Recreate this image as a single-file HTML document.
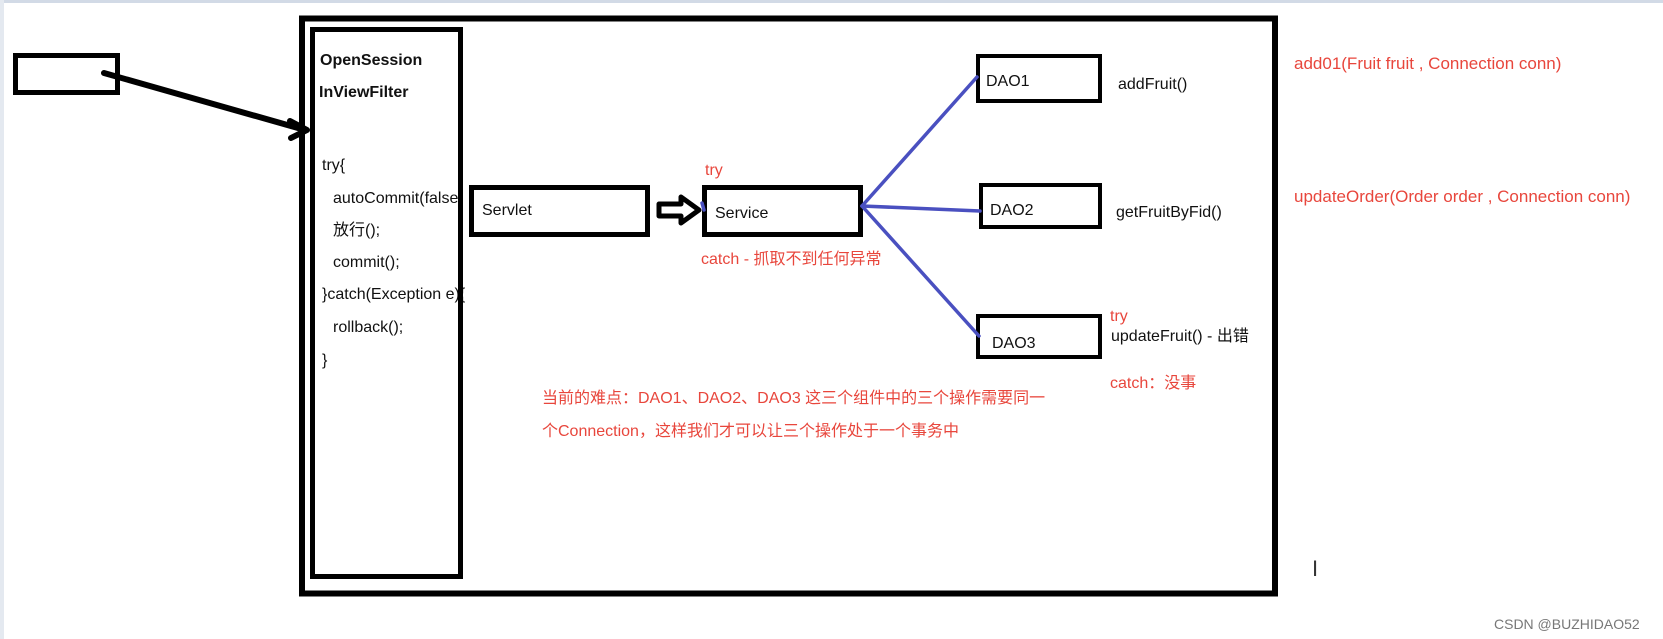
<!DOCTYPE html>
<html><head><meta charset="utf-8"><style>
html,body{margin:0;padding:0;background:#fff;}
svg{display:block}
text{font-family:"Liberation Sans","Noto Sans CJK SC",sans-serif;}
</style></head><body>
<svg width="1663" height="639" viewBox="0 0 1663 639" xmlns="http://www.w3.org/2000/svg">
<rect x="0" y="0" width="1663" height="639" fill="#fff"/>
<rect x="0" y="0" width="1663" height="3" fill="#d2dae6"/>
<rect x="0" y="0" width="4" height="639" fill="#e4e9f0"/>
<g font-size="16" fill="#111">
<text x="333" y="203">autoCommit(false)</text>
<text x="322" y="299">}catch(Exception e){</text>
</g>
<g fill="none" stroke="#000">
<rect x="15.5" y="55.5" width="102" height="37" stroke-width="5"/>
<rect x="302" y="18.5" width="973" height="575" stroke-width="6"/>
<rect x="312.5" y="29.5" width="148" height="547" stroke-width="5"/>
<rect x="471.5" y="187.5" width="176" height="47" stroke-width="5"/>
<rect x="704.5" y="187.5" width="156" height="47" stroke-width="5"/>
<rect x="978" y="56" width="122" height="45" stroke-width="4"/>
<rect x="981" y="185" width="119" height="42" stroke-width="4"/>
<rect x="978" y="316" width="122" height="41" stroke-width="4"/>
<line x1="104" y1="73" x2="305" y2="130" stroke-width="6" stroke-linecap="round"/>
<polyline points="290,121 307,130 291,138" stroke-width="6" stroke-linecap="round" stroke-linejoin="round"/>
</g>
<path d="M659,204 L681,204 L681,197 L699,210 L681,223 L681,216 L659,216 Z" fill="#fff" stroke="#000" stroke-width="5" stroke-linejoin="round"/>
<g stroke="#4a50c0" stroke-width="3.5" fill="none" stroke-linecap="round">
<line x1="862" y1="206" x2="977" y2="77"/>
<line x1="862" y1="206" x2="980" y2="211"/>
<line x1="862" y1="206" x2="979" y2="336"/>
<line x1="702" y1="203" x2="704" y2="210"/>
</g>
<g font-size="16" fill="#111">
<text x="320" y="65" font-weight="bold">OpenSession</text>
<text x="319" y="97" font-weight="bold">InViewFilter</text>
<text x="322" y="170">try{</text>
<text x="333" y="235">放行();</text>
<text x="333" y="267">commit();</text>
<text x="333" y="332">rollback();</text>
<text x="322" y="365">}</text>
<text x="482" y="215">Servlet</text>
<text x="715" y="218">Service</text>
<text x="986" y="86">DAO1</text>
<text x="990" y="215">DAO2</text>
<text x="992" y="348">DAO3</text>
<text x="1118" y="89">addFruit()</text>
<text x="1116" y="217">getFruitByFid()</text>
<text x="1111" y="341">updateFruit() - 出错</text>
</g>
<g font-size="16" fill="#e8463c">
<text x="705" y="175">try</text>
<text x="701" y="264">catch  - 抓取不到任何异常</text>
<text x="1110" y="321">try</text>
<text x="1110" y="388">catch：没事</text>
<text x="542" y="403">当前的难点：DAO1、DAO2、DAO3 这三个组件中的三个操作需要同一</text>
<text x="542" y="436">个Connection，这样我们才可以让三个操作处于一个事务中</text>
<text x="1294" y="69" font-size="17">add01(Fruit fruit , Connection conn)</text>
<text x="1294" y="202" font-size="17">updateOrder(Order order , Connection conn)</text>
</g>
<text x="1312" y="576" font-size="22" fill="#333" font-family="Liberation Serif, serif">I</text>
<text x="1494" y="629" font-size="14" fill="#777">CSDN @BUZHIDAO52</text>
</svg>
</body></html>
